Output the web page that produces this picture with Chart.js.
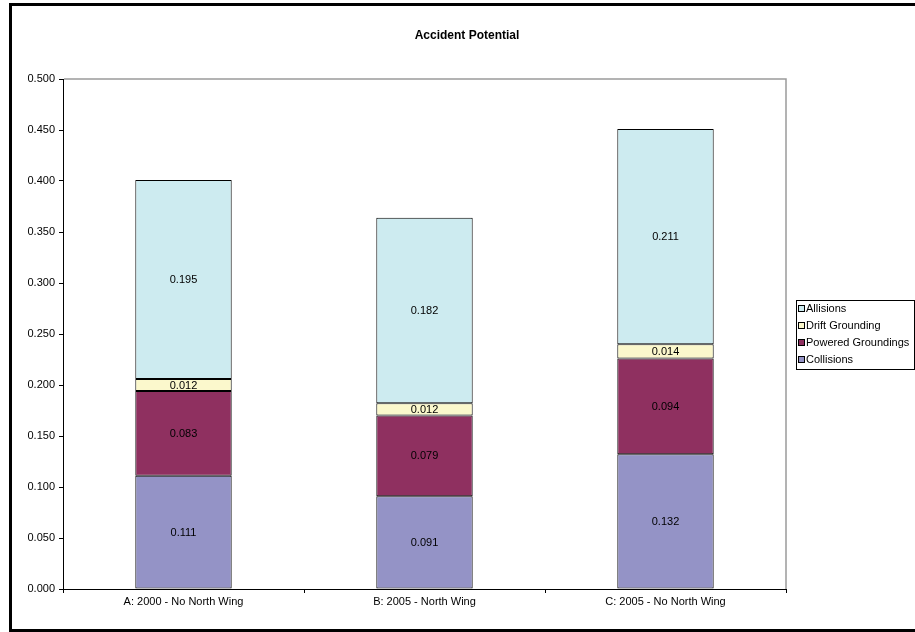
<!DOCTYPE html>
<html>
<head>
<meta charset="utf-8">
<script src="https://cdn.jsdelivr.net/npm/chart.js@4"></script>
<style>
  html, body { margin: 0; padding: 0; background: #fff; }
  canvas { display: block; }
</style>
</head>
<body>
<canvas id="accidentChart" width="915" height="632"></canvas>
<script>
const scenarios = ["A: 2000 - No North Wing", "B: 2005 - North Wing", "C: 2005 - No North Wing"];
const collisions = [0.111, 0.091, 0.132];
const poweredGroundings = [0.083, 0.079, 0.094];
const driftGrounding = [0.012, 0.012, 0.014];
const allisions = [0.195, 0.182, 0.211];

const FONT = "'Liberation Sans', Arial, sans-serif";

// outer frame + title
const framePlugin = {
    id: 'frame',
    beforeDraw(chart) {
        const ctx = chart.ctx;
        ctx.save();
        ctx.fillStyle = '#fff';
        ctx.fillRect(0, 0, chart.width, chart.height);
        ctx.strokeStyle = '#000';
        ctx.lineWidth = 3;
        ctx.strokeRect(10.5, 4.5, 1000, 626);
        ctx.fillStyle = '#000';
        ctx.font = 'bold 12px ' + FONT;
        ctx.textAlign = 'center';
        ctx.textBaseline = 'middle';
        ctx.fillText('Accident Potential', 467, 36);
        ctx.restore();
    },
    afterDraw(chart) {
        const ctx = chart.ctx;
        const a = chart.chartArea;
        ctx.save();
        // grey top/right edges of the plot area
        ctx.strokeStyle = '#9a9a9a';
        ctx.lineWidth = 1.5;
        ctx.beginPath();
        ctx.moveTo(a.left + 1, a.top);
        ctx.lineTo(a.right, a.top);
        ctx.lineTo(a.right, a.bottom);
        ctx.stroke();
        ctx.restore();
    }
};

// value labels centred in each segment
const segmentLabels = {
    id: 'segmentLabels',
    afterDatasetsDraw(chart) {
        const ctx = chart.ctx;
        ctx.save();
        ctx.font = '11px ' + FONT;
        ctx.fillStyle = '#000';
        ctx.textAlign = 'center';
        ctx.textBaseline = 'middle';
        chart.data.datasets.forEach((ds, i) => {
            chart.getDatasetMeta(i).data.forEach((bar, j) => {
                const p = bar.getCenterPoint();
                ctx.fillText(ds.data[j].toFixed(3), p.x, p.y + 0.5);
            });
        });
        ctx.restore();
    }
};

// boxed legend on the right, top series first
const boxLegend = {
    id: 'boxLegend',
    afterDraw(chart) {
        const ctx = chart.ctx;
        const sets = chart.data.datasets.slice().reverse();
        const x = 796, w = 118, rowH = 17;
        const h = sets.length * rowH + 1;
        const a = chart.chartArea;
        const y = Math.round((a.top + a.bottom) / 2 - h / 2);
        ctx.save();
        ctx.strokeStyle = '#000';
        ctx.lineWidth = 1;
        ctx.strokeRect(x + 0.5, y + 0.5, w, h);
        ctx.font = '11px ' + FONT;
        ctx.textBaseline = 'middle';
        ctx.textAlign = 'left';
        sets.forEach((ds, i) => {
            const cy = y + 9 + i * rowH;
            ctx.fillStyle = ds.backgroundColor;
            ctx.fillRect(x + 2.5, cy - 3.5, 6, 6);
            ctx.strokeStyle = '#000';
            ctx.strokeRect(x + 2.5, cy - 3.5, 6, 6);
            ctx.fillStyle = '#000';
            ctx.fillText(ds.label, x + 10, cy);
        });
        ctx.restore();
    }
};

const series = [
    { label: 'Collisions', data: collisions, backgroundColor: '#9493c6' },
    { label: 'Powered Groundings', data: poweredGroundings, backgroundColor: '#8f3060' },
    { label: 'Drift Grounding', data: driftGrounding, backgroundColor: '#fbf8cc' },
    { label: 'Allisions', data: allisions, backgroundColor: '#cdebf0' }
];

new Chart(document.getElementById('accidentChart'), {
    type: 'bar',
    data: {
        labels: scenarios,
        datasets: series.map(s => ({
            ...s,
            borderColor: '#000',
            borderWidth: 1,
            borderSkipped: false,
            categoryPercentage: 1,
            barPercentage: 0.4
        }))
    },
    options: {
        responsive: false,
        animation: false,
        devicePixelRatio: 1,
        layout: { padding: { top: 79, right: 129, left: 0, bottom: 0 } },
        plugins: {
            legend: { display: false },
            title: { display: false },
            tooltip: { enabled: false }
        },
        scales: {
            x: {
                stacked: true,
                afterFit: (scale) => { scale.height = 43; },
                grid: { offset: true, drawOnChartArea: false, tickLength: 4, color: '#000' },
                border: { color: '#000', width: 1 },
                ticks: { color: '#000', font: { family: FONT, size: 11 }, padding: 2, maxRotation: 0 }
            },
            y: {
                stacked: true,
                min: 0,
                max: 0.5,
                afterFit: (scale) => { scale.width = 63; },
                grid: { drawOnChartArea: false, tickLength: 4, color: '#000' },
                border: { color: '#000', width: 1 },
                ticks: {
                    stepSize: 0.05,
                    color: '#000',
                    padding: 4,
                    font: { family: FONT, size: 11 },
                    callback: (v) => v.toFixed(3)
                }
            }
        }
    },
    plugins: [framePlugin, segmentLabels, boxLegend]
});
</script>
</body>
</html>
